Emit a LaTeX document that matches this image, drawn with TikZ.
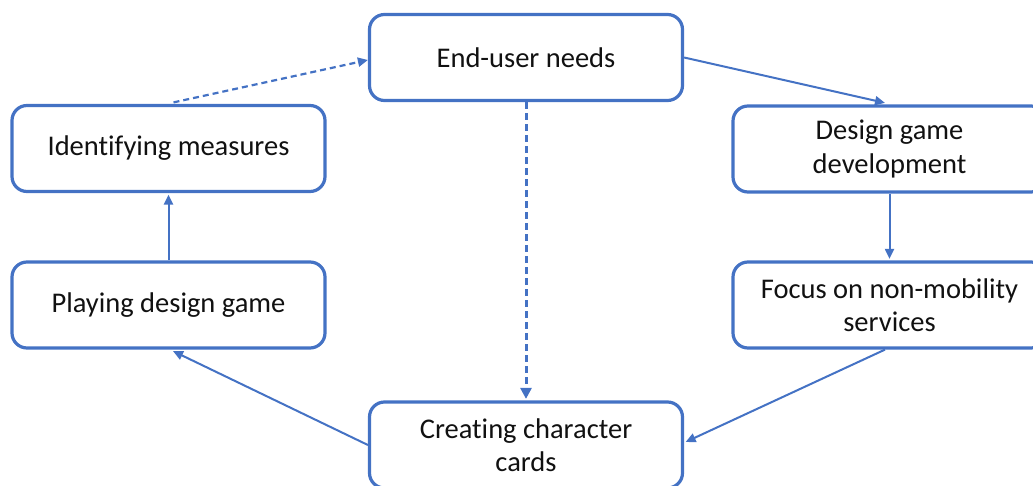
\documentclass[tikz,border=0pt]{standalone}
\usepackage{fontspec}
\setmainfont{Carlito}[Ligatures=NoCommon]
\usetikzlibrary{arrows.meta,calc}
\definecolor{officeblue}{HTML}{4472C4}
\definecolor{ink}{HTML}{111111}
\begin{document}
\begin{tikzpicture}[x=1pt,y=-1pt,
  stage/.style={draw=officeblue, line width=3.2pt, rounded corners=15pt, fill=white,
    minimum width=313pt, minimum height=86pt, align=center, inner sep=0pt,
    text=ink, font=\fontsize{28.5}{33.5}\selectfont},
  flow/.style={draw=officeblue, line width=2pt,
    -{Triangle[length=10pt,width=9pt]}},
  loopback/.style={flow, line width=2.2pt, dash pattern=on 6pt off 4pt},
  feed/.style={draw=officeblue, line width=3pt, dash pattern=on 7pt off 4pt,
    -{Triangle[length=11pt,width=11pt]}}
]
\useasboundingbox (0,0) rectangle (1033,486);
\clip (0,0) rectangle (1033,486);

% process stages
\node[stage] (end)    at (526,57.5)   {End-user needs};
\node[stage] (ident)  at (168.5,148.5){Identifying measures};
\node[stage] (play)   at (168.5,305)  {Playing design game};
\node[stage] (design) at (889.5,149)  {Design game\\development};
\node[stage] (focus)  at (889.5,305)  {Focus on non-mobility\\services};
\node[stage] (create) at (526,445)    {Creating character\\cards};

% connectors
\draw[loopback] ($(ident.north)+(5,-1.5)$) -- ($(end.west)+(0,2.5)$);
\draw[flow] (end.east) -- ($(design.north)+(-4.5,-1.5)$);
\draw[flow] (design.south) -- ($(focus.north)+(0,-1.5)$);
\draw[flow] ($(focus.south)+(-4.5,0)$) -- ($(create.east)+(1.5,-3)$);
\draw[flow] (create.west) -- ($(play.south)+(4.5,1.5)$);
\draw[flow] (play.north) -- ($(ident.south)+(0,1.5)$);
\draw[feed] (end.south) -- ($(create.north)+(0,-1.5)$);
\end{tikzpicture}
\end{document}
